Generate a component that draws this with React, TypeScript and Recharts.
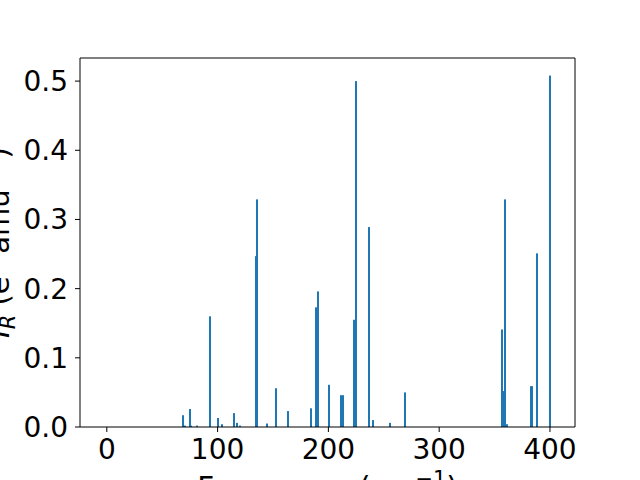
import { Bar, ComposedChart, Label, ReferenceLine, XAxis, YAxis } from 'recharts';

// vibrational modes (cm^-1) and their IR intensities
const frequencies = [
  69.2, 70.3, 75.0, 76.4, 81.4, 93.1, 100.4, 104.0, 114.8, 117.5, 120.2,
  134.7, 135.6, 145.0, 152.7, 163.5, 184.3, 188.8, 190.6, 200.5, 211.8,
  212.8, 223.5, 225.3, 237.0, 240.5, 255.6, 269.0, 356.7, 358.1, 359.4,
  361.6, 383.2, 384.0, 388.4, 400.4,
];
const intensities = [
  0.017, 0.002, 0.026, 0.002, 0.002, 0.16, 0.013, 0.004, 0.02, 0.006, 0.002,
  0.247, 0.329, 0.005, 0.056, 0.023, 0.027, 0.173, 0.196, 0.061, 0.046,
  0.046, 0.155, 0.5, 0.289, 0.01, 0.006, 0.05, 0.141, 0.052, 0.329,
  0.004, 0.059, 0.059, 0.251, 0.508,
];

const xTicks = [0, 100, 200, 300, 400];
const yTicks = [0, 0.1, 0.2, 0.3, 0.4, 0.5];
const xDomain = [-24.2, 422.6];
const yDomain = [0, 0.5334];

const data = frequencies.map((f, i) => ({ freq: f, ir: intensities[i] }));

const FONT = 'DejaVu Sans';
const BLUE = '#1f77b4';
const tickStyle = { fill: '#000', fontSize: 28, fontFamily: FONT };

// snap each stick to whole pixels so it looks like matplotlib's bars
const StickShape = (p: any) => {
  const mid = p.x + p.width / 2;
  const left = Math.round(mid - 1);
  return <rect x={left} y={p.y} width={2} height={p.height} fill={BLUE} />;
};

const YLabel = (props: any) => {
  const vb = props.viewBox;
  const cx = vb.x + 9;
  const cy = vb.y + vb.height / 2;
  return (
    <text
      x={cx}
      y={cy}
      transform={`rotate(-90 ${cx} ${cy})`}
      textAnchor="middle"
      fontSize={29}
      fontFamily={FONT}
      fill="#000"
    >
      <tspan fontStyle="italic">I</tspan>
      <tspan fontStyle="italic" fontSize={21} dy={6}>R</tspan>
      <tspan dy={-6}> (e</tspan>
      <tspan fontSize={21} dy={-11}>2</tspan>
      <tspan dy={11}> amu</tspan>
      <tspan fontSize={21} dy={-11}>−1</tspan>
      <tspan dy={11}>)</tspan>
    </text>
  );
};

const XLabel = (props: any) => {
  const vb = props.viewBox;
  const cx = vb.x + vb.width / 2;
  return (
    <text x={cx} y={498} textAnchor="middle" fontSize={29.5} fontFamily={FONT} fill="#000">
      <tspan>Frequency (cm</tspan>
      <tspan fontSize={21} dy={-12}>−1</tspan>
      <tspan dy={12}>)</tspan>
    </text>
  );
};

export default function App() {
  return (
    <div style={{ position: 'absolute', left: 0, top: 0, background: '#fff' }}>
      <ComposedChart
        width={640}
        height={480}
        data={data}
        margin={{ top: 58, right: 65, bottom: 0, left: 0 }}
      >
        <XAxis
          dataKey="freq"
          type="number"
          domain={xDomain}
          ticks={xTicks}
          height={53}
          tickSize={5}
          tickMargin={7}
          tick={tickStyle}
          tickLine={{ stroke: '#000' }}
          axisLine={{ stroke: '#000' }}
          allowDataOverflow
        >
          <Label content={XLabel} />
        </XAxis>
        <YAxis
          type="number"
          domain={yDomain}
          ticks={yTicks}
          width={80}
          tickSize={5}
          tickMargin={7}
          tick={tickStyle}
          tickFormatter={(v: number) => v.toFixed(1)}
          tickLine={{ stroke: '#000' }}
          axisLine={{ stroke: '#000' }}
          allowDataOverflow
        >
          <Label content={YLabel} />
        </YAxis>
        <Bar
          dataKey="ir"
          fill={BLUE}
          barSize={2}
          shape={StickShape}
          isAnimationActive={false}
        />
        <ReferenceLine y={yDomain[1]} stroke="#000" strokeWidth={1} ifOverflow="extendDomain" />
        <ReferenceLine x={xDomain[1]} stroke="#000" strokeWidth={1} ifOverflow="extendDomain" />
      </ComposedChart>
    </div>
  );
}
